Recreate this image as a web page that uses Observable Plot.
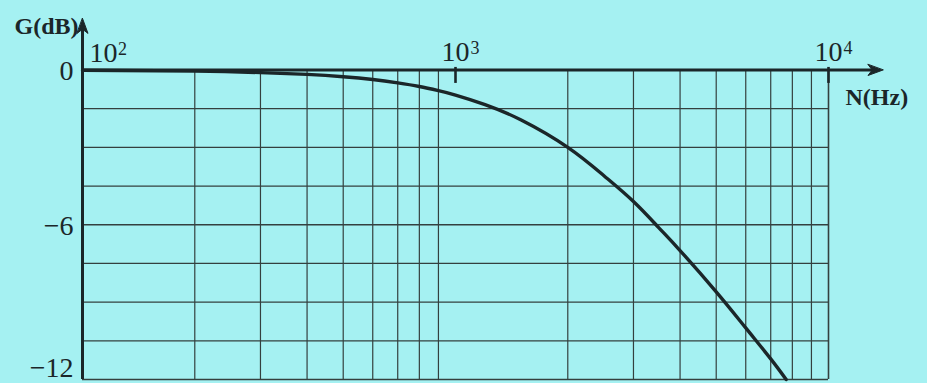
<!DOCTYPE html>
<html>
<head>
<meta charset="utf-8">
<script src="https://cdn.jsdelivr.net/npm/d3@7"></script>
<script src="https://cdn.jsdelivr.net/npm/@observablehq/plot@0.6"></script>
<style>
  html, body { margin: 0; padding: 0; background: #a5f1f2; overflow: hidden; }
  #chart svg { display: block; }
</style>
</head>
<body>
<div id="chart"></div>
<script>
// Frequency response (N in Hz, G in dB)
const freqHz = [100, 200, 300, 400, 500, 600, 700, 800, 900, 1000, 1200, 1500, 2000, 2500, 3000, 3500, 4000, 5000, 6000, 7000, 7700];
const gainDb = [-0.01, -0.04, -0.1, -0.17, -0.26, -0.37, -0.5, -0.64, -0.8, -0.97, -1.34, -1.94, -3.0, -4.1, -5.1, -6.1, -7.0, -8.6, -10.0, -11.2, -12.0];

// Axes and grid
const decadeTicks = [100, 1000, 10000];
const decadeExponents = ["2", "3", "4"];
const minorFreqs = [200, 300, 400, 500, 600, 700, 800, 900, 2000, 3000, 4000, 5000, 6000, 7000, 8000, 9000];
const gainGrid = [-1.5, -3, -4.5, -6, -7.5, -9, -10.5];
const gainLabelValues = [0, -6, -12];
const gainLabelText = ["0", "−6", "−12"];
const xAxisEnd = 14000;   // arrow tip of the N axis
const yAxisTop = 2.0;     // arrow tip of the G axis

const ink = "#1b2629";
const gridInk = "#34403f";
const font = "'Liberation Serif', 'Times New Roman', serif";

const curve = freqHz.map((f, i) => ({f, g: gainDb[i]}));
const yLabels = gainLabelValues.map((v, i) => ({v, s: gainLabelText[i]}));
const heads = [
  {x: decadeTicks[0], y: yAxisTop, rot: 0},
  {x: xAxisEnd, y: 0, rot: 90}
];
const barbed = {
  draw(ctx, l, r) {
    ctx.moveTo(0, -l);
    ctx.lineTo(r, 0);
    ctx.lineTo(0, -l * 0.28);
    ctx.lineTo(-r, 0);
    ctx.closePath();
  }
};

function build(useVector) {
  const headMark = useVector
    ? Plot.vector(heads, {x: "x", y: "y", rotate: "rot", length: 15, r: 5.5, anchor: "end", shape: barbed, fill: ink, stroke: ink, strokeWidth: 1})
    : Plot.dot(heads, {x: "x", y: "y", rotate: "rot", symbol: "triangle", r: 6, fill: ink, dy: 4});
  return Plot.plot({
    width: 927,
    height: 383,
    marginLeft: 82,
    marginRight: 99,
    marginTop: 69.5,
    marginBottom: 4,
    style: {background: "#a5f1f2", fontFamily: font, overflow: "visible"},
    x: {type: "log", domain: [100, 10000], axis: null},
    y: {domain: [-12, 0], axis: null},
    marks: [
      // grid
      Plot.ruleX(minorFreqs, {y1: 0, y2: -12, stroke: gridInk, strokeWidth: 1.2}),
      Plot.ruleY(gainGrid, {x1: decadeTicks[0], x2: decadeTicks[2], stroke: gridInk, strokeWidth: 1.3}),
      Plot.ruleX([decadeTicks[2]], {y1: 0, y2: -12, stroke: gridInk, strokeWidth: 1.6}),
      Plot.ruleY([-12], {x1: decadeTicks[0], x2: decadeTicks[2], stroke: gridInk, strokeWidth: 1.6}),
      // curve
      Plot.line(curve, {x: "f", y: "g", stroke: ink, strokeWidth: 3.4, curve: "natural"}),
      // axes
      Plot.ruleY([0], {x1: decadeTicks[0], x2: 13300, stroke: ink, strokeWidth: 3}),
      Plot.ruleX([decadeTicks[0]], {y1: -12, y2: yAxisTop - 0.25, stroke: ink, strokeWidth: 3}),
      Plot.ruleX(decadeTicks.slice(1), {y1: 0.1, y2: -0.52, stroke: ink, strokeWidth: 2.6}),
      headMark,
      // decade labels 10^n
      Plot.text([decadeTicks[0]], {x: d => d, y: 0, text: () => "10", textAnchor: "start", lineAnchor: "bottom", dx: 7, dy: -8, fontSize: 28, fill: ink}),
      Plot.text([decadeExponents[0]], {x: decadeTicks[0], y: 0, text: d => d, textAnchor: "start", lineAnchor: "bottom", dx: 35.5, dy: -15.5, fontSize: 18, fill: ink}),
      Plot.text(decadeTicks.slice(1), {x: d => d, y: 0, text: () => "10", textAnchor: "start", lineAnchor: "bottom", dx: -14, dy: -9, fontSize: 28, fill: ink}),
      Plot.text(decadeTicks.slice(1).map((t, i) => ({t, e: decadeExponents[i + 1]})), {x: "t", y: 0, text: "e", textAnchor: "start", lineAnchor: "bottom", dx: 15, dy: -16.5, fontSize: 18, fill: ink}),
      // gain labels
      Plot.text(yLabels.slice(0, 2), {x: decadeTicks[0], y: "v", text: "s", textAnchor: "end", lineAnchor: "middle", dx: -9, dy: 1.5, fontSize: 28, fill: ink}),
      Plot.text(yLabels.slice(2), {x: decadeTicks[0], y: "v", text: "s", textAnchor: "end", lineAnchor: "bottom", dx: -9, dy: -3, fontSize: 28, fill: ink}),
      // axis titles
      Plot.text(["G(dB)"], {x: decadeTicks[0], y: 0, text: d => d, textAnchor: "end", lineAnchor: "bottom", dx: -4, dy: -36.5, fontSize: 24, fontWeight: "bold", fill: ink}),
      Plot.text(["N(Hz)"], {x: decadeTicks[2], y: 0, text: d => d, textAnchor: "start", lineAnchor: "bottom", dx: 17, dy: 34.5, fontSize: 24, fontWeight: "bold", fill: ink})
    ]
  });
}

let chart;
try {
  chart = build(true);
} catch (e) {
  chart = build(false);
}
document.getElementById("chart").append(chart);
</script>
</body>
</html>
